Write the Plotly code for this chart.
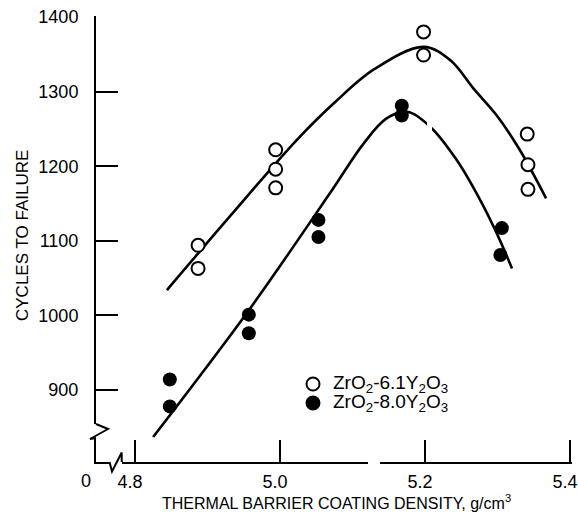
import plotly.graph_objects as go

# ---- data ----
open_x = [4.887, 4.887, 4.994, 4.994, 4.994, 5.198, 5.198, 5.341, 5.342, 5.342]
open_y = [1094, 1063, 1222, 1196, 1171, 1380, 1349, 1243, 1202, 1169]
fill_x = [4.848, 4.848, 4.957, 4.957, 5.053, 5.053, 5.168, 5.168, 5.306, 5.304]
fill_y = [914, 878, 1001, 976, 1128, 1105, 1281, 1268, 1117, 1081]

# fitted curves
curve_open_x = [4.844, 4.932, 5.023, 5.075, 5.130, 5.198, 5.235, 5.267, 5.299, 5.330, 5.367]
curve_open_y = [1034, 1134, 1235, 1285, 1330, 1360, 1342, 1304, 1268, 1223, 1157]
curve_fill_x = [4.825, 4.957, 5.069, 5.115, 5.147, 5.175, 5.207, 5.244, 5.276, 5.299, 5.320]
curve_fill_y = [837, 1007, 1164, 1230, 1264, 1273, 1253, 1208, 1155, 1110, 1063]

x_ticks = [4.8, 5.0, 5.2, 5.4]
x_ticklabels = ["4.8", "5.0", "5.2", "5.4"]
y_ticks = [900, 1000, 1100, 1200, 1300, 1400]
y_ticklabels = ["900", "1000", "1100", "1200", "1300", "1400"]

legend_labels = ["ZrO<sub>2</sub>-6.1Y<sub>2</sub>O<sub>3</sub>",
                 "ZrO<sub>2</sub>-8.0Y<sub>2</sub>O<sub>3</sub>"]

# plot area in pixels
L, R, T, B = 96, 572, 16, 462
XMIN, XMAX = 4.8 - (135 - L) / 725, 4.8 + (R - 135) / 725
YMIN, YMAX = 1400 - (B - 17) * 100 / 74.6, 1400 + (17 - T) * 100 / 74.6

FONT = "Liberation Sans Narrow, Arial Narrow, Liberation Sans, sans-serif"


def ppx(p):  # pixel x -> paper
    return (p - L) / (R - L)


def ppy(p):  # pixel y -> paper
    return (B - p) / (B - T)


fig = go.Figure()
for cx, cy in [(curve_open_x, curve_open_y), (curve_fill_x, curve_fill_y)]:
    fig.add_trace(go.Scatter(x=cx, y=cy, mode="lines",
                             line=dict(color="black", width=2.6, shape="spline", smoothing=1.0),
                             showlegend=False, hoverinfo="skip"))
fig.add_trace(go.Scatter(x=open_x, y=open_y, mode="markers",
                         marker=dict(symbol="circle", size=13, color="white",
                                     line=dict(color="black", width=2)),
                         showlegend=False))
fig.add_trace(go.Scatter(x=fill_x, y=fill_y, mode="markers",
                         marker=dict(symbol="circle", size=14, color="black"),
                         showlegend=False))

# small gaps seen in the original drawing (x axis and lower curve)
fig.add_shape(type="rect", xref="paper", yref="paper",
              x0=ppx(368), x1=ppx(380), y0=ppy(465), y1=ppy(459),
              fillcolor="white", line=dict(width=0), layer="above")
fig.add_shape(type="rect", xref="paper", yref="paper",
              x0=ppx(427), x1=ppx(432), y0=ppy(131), y1=ppy(117),
              fillcolor="white", line=dict(width=0), layer="above")

# axis breaks (decorations, paper coordinates)
fig.add_shape(type="rect", xref="paper", yref="paper",
              x0=ppx(L - 4), x1=ppx(L + 4), y0=ppy(438), y1=ppy(424),
              fillcolor="white", line=dict(width=0), layer="above")
fig.add_shape(type="path", xref="paper", yref="paper",
              path=(f"M {ppx(L)} {ppy(424)} L {ppx(L + 12)} {ppy(429)} "
                    f"L {ppx(L - 6)} {ppy(439)} L {ppx(L)} {ppy(438)}"),
              line=dict(color="black", width=2), layer="above")
fig.add_shape(type="rect", xref="paper", yref="paper",
              x0=ppx(110), x1=ppx(122), y0=ppy(465), y1=ppy(459),
              fillcolor="white", line=dict(width=0), layer="above")
fig.add_shape(type="path", xref="paper", yref="paper",
              path=(f"M {ppx(109.5)} {ppy(B)} L {ppx(112)} {ppy(471.5)} "
                    f"L {ppx(121.7)} {ppy(452.5)} L {ppx(121.7)} {ppy(B)}"),
              line=dict(color="black", width=2), layer="above")

# legend (custom)
for i, (lab, filled) in enumerate(zip(legend_labels, [False, True])):
    ypx = 384 + 19 * i
    fig.add_shape(type="circle", xref="paper", yref="paper",
                  x0=ppx(313 - 6.5), x1=ppx(313 + 6.5), y0=ppy(ypx + 6.5), y1=ppy(ypx - 6.5),
                  fillcolor="black" if filled else "white",
                  line=dict(color="black", width=2), layer="above")
    fig.add_annotation(xref="paper", yref="paper", x=ppx(331), y=ppy(ypx), text=lab,
                       showarrow=False, xanchor="left", yanchor="middle",
                       font=dict(family=FONT, size=19, color="black"))

# titles
fig.add_annotation(xref="paper", yref="paper", x=ppx(336), y=ppy(502),
                   text="THERMAL BARRIER COATING DENSITY, g/cm<sup>3</sup>",
                   showarrow=False, xanchor="center", yanchor="middle",
                   font=dict(family=FONT, size=16, color="black"))
fig.add_annotation(xref="paper", yref="paper", x=ppx(22), y=ppy(236),
                   text="CYCLES TO FAILURE", textangle=-90,
                   showarrow=False, xanchor="center", yanchor="middle",
                   font=dict(family=FONT, size=17, color="black"))
# corner zero
fig.add_annotation(xref="paper", yref="paper", x=ppx(86), y=ppy(481), text="0", showarrow=False,
                   xanchor="center", yanchor="middle",
                   font=dict(family=FONT, size=18, color="black"))

fig.update_layout(
    width=578, height=519,
    margin=dict(l=L, r=578 - R, t=T, b=519 - B, autoexpand=False),
    paper_bgcolor="white", plot_bgcolor="white",
    font=dict(family=FONT, size=18, color="black"),
    showlegend=False,
    xaxis=dict(range=[XMIN, XMAX], tickvals=x_ticks, ticktext=x_ticklabels,
               ticks="inside", ticklen=22, tickwidth=2, tickcolor="black",
               showline=True, linecolor="black", linewidth=2,
               showgrid=False, zeroline=False, ticklabelstandoff=2,
               ticklabelshift=-5, ticklabeloverflow="allow", automargin=False),
    yaxis=dict(range=[YMIN, YMAX], tickvals=y_ticks, ticktext=y_ticklabels,
               ticks="inside", ticklen=22, tickwidth=2, tickcolor="black",
               showline=True, linecolor="black", linewidth=2,
               showgrid=False, zeroline=False, ticklabelstandoff=12,
               automargin=False),
)

fig.write_html("out.html")
